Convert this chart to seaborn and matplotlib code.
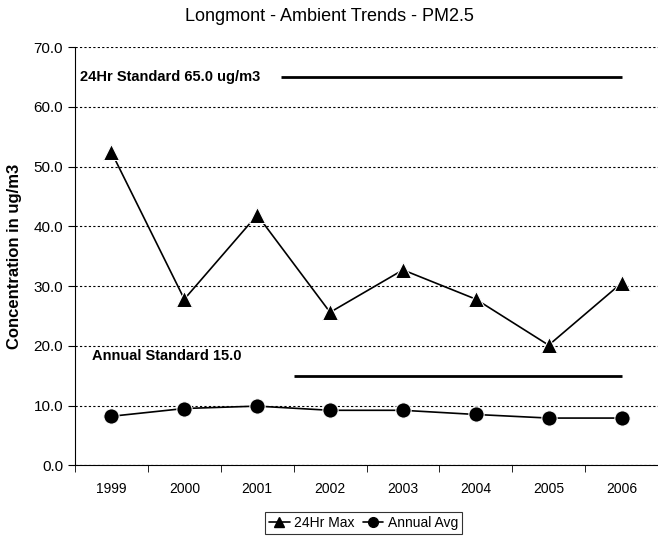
import pandas as pd
import matplotlib.pyplot as plt
import seaborn as sns

# Values
years = ['1999', '2000', '2001', '2002', '2003', '2004', '2005', '2006']
max_24hr = [52.4, 27.8, 41.9, 25.6, 32.7, 27.8, 20.1, 30.5]
annual_avg = [8.2, 9.5, 9.9, 9.2, 9.2, 8.5, 7.9, 7.9]
std_24hr = 65.0
std_annual = 15.0

df = pd.DataFrame({
    'pos': list(range(len(years))) * 2,
    'value': max_24hr + annual_avg,
    'series': ['24Hr Max'] * len(years) + ['Annual Avg'] * len(years),
})

sns.set_style('white')
plt.rcParams['font.family'] = ['Liberation Sans', 'DejaVu Sans']
plt.rcParams['text.color'] = 'black'
plt.rcParams['xtick.color'] = 'black'
plt.rcParams['ytick.color'] = 'black'
plt.rcParams['axes.labelcolor'] = 'black'

fig = plt.figure(figsize=(6.58, 5.41), dpi=100)
ax = fig.add_axes([0.114, 0.140, 0.886, 0.773])

sns.lineplot(data=df, x='pos', y='value', hue='series', style='series',
             palette=['black', 'black'], markers={'24Hr Max': '^', 'Annual Avg': 'o'},
             dashes=False, markersize=11, linewidth=1.2, ax=ax, legend=False)

# standard lines
ax.hlines(std_24hr, 2.33, 7, color='black', linewidth=2)
ax.hlines(std_annual, 2.5, 7, color='black', linewidth=2)
ax.text(-0.43, std_24hr, '24Hr Standard 65.0 ug/m3', fontsize=10.5, fontweight='bold',
        va='center', ha='left')
ax.text(-0.27, std_annual + 3.3, 'Annual Standard 15.0', fontsize=10.5, fontweight='bold',
        va='center', ha='left')

ax.set_xlim(-0.5, len(years) - 0.5)
ax.set_ylim(0, 70)
ax.set_yticks(range(0, 71, 10))
ax.set_yticklabels([f'{v:.1f}' for v in range(0, 71, 10)], fontsize=11)
ax.set_xticks(range(len(years)))
ax.set_xticklabels(years, fontsize=10)
ax.set_xticks([i - 0.5 for i in range(len(years) + 1)], minor=True)
ax.tick_params(axis='x', which='major', length=0, pad=12)
ax.tick_params(axis='x', which='minor', length=5, direction='out', color='black', bottom=True)
ax.tick_params(axis='y', length=5, direction='out', color='black', left=True)
ax.yaxis.grid(True, linestyle=(0, (2, 2)), color='black', linewidth=0.8)
ax.set_axisbelow(True)

for s in ['top', 'right']:
    ax.spines[s].set_visible(False)
for s in ['left', 'bottom']:
    ax.spines[s].set_color('black')
    ax.spines[s].set_linewidth(0.8)

ax.set_xlabel('')
ax.set_ylabel('Concentration in ug/m3', fontsize=12, fontweight='bold', labelpad=8)
fig.suptitle('Longmont - Ambient Trends - PM2.5', fontsize=13, y=0.985)

h1, = ax.plot([], [], color='black', marker='^', markersize=7, linewidth=1.2)
h2, = ax.plot([], [], color='black', marker='o', markersize=7, linewidth=1.2)
leg = fig.legend([h1, h2], ['24Hr Max', 'Annual Avg'], loc='lower center', ncol=2,
                 bbox_to_anchor=(0.552, 0.0), fontsize=10, frameon=True, fancybox=False,
                 handlelength=1.5, handletextpad=0.3, columnspacing=0.6,
                 borderpad=0.3, edgecolor='black')
leg.get_frame().set_linewidth(0.8)

fig.savefig('out.png', dpi=100)
